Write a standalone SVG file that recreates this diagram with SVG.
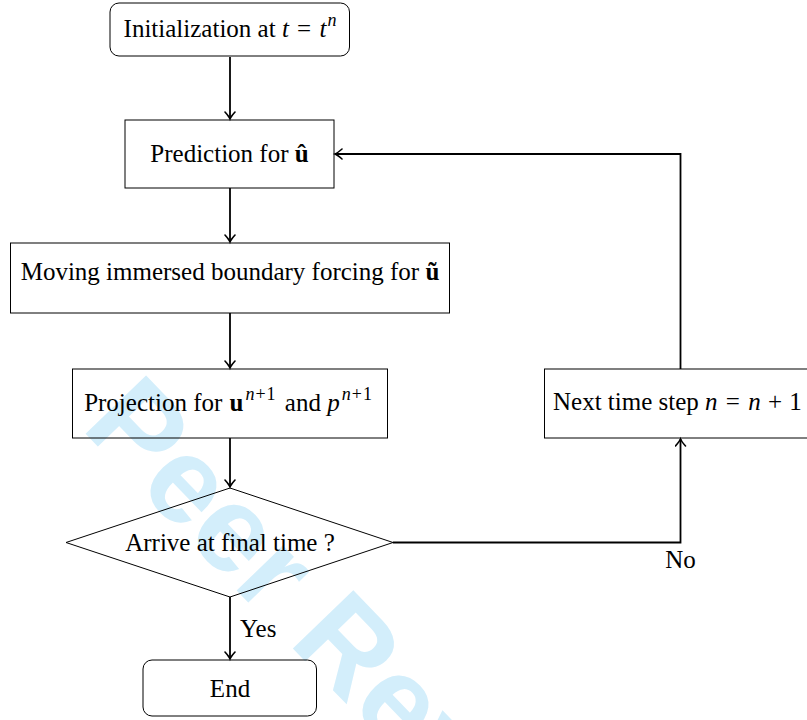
<svg xmlns="http://www.w3.org/2000/svg" width="807" height="720" viewBox="0 0 807 720">
<style>
text{font-family:"Liberation Serif","Times New Roman",serif;font-size:25px;fill:#000}
.box{fill:none;stroke:#000;stroke-width:1}
.conn{fill:none;stroke:#000;stroke-width:1.8}
.m{font-style:italic}
.b{font-weight:bold}
.sup{font-size:18px}
.wm{font-family:"Liberation Sans",Arial,sans-serif;font-weight:bold;font-size:122px;fill:#d3eefb}
</style>
<defs>
<marker id="arr" markerUnits="userSpaceOnUse" markerWidth="12" markerHeight="12" viewBox="-8 -6 10 12" refX="0" refY="0" orient="auto">
<path d="M-7,-5 Q-2.5,-1 0,0 Q-2.5,1 -7,5" fill="none" stroke="#000" stroke-width="1.6" stroke-linecap="round"/>
</marker>
</defs>
<rect width="807" height="720" fill="#fff"/>
<text class="wm" transform="translate(80,428) rotate(46)">Peer Review</text>
<g id="connectors">
<line class="conn" x1="230" y1="57" x2="230" y2="119" marker-end="url(#arr)"/>
<line class="conn" x1="230" y1="188" x2="230" y2="242" marker-end="url(#arr)"/>
<line class="conn" x1="230" y1="313" x2="230" y2="368" marker-end="url(#arr)"/>
<line class="conn" x1="230" y1="438" x2="230" y2="487" marker-end="url(#arr)"/>
<line class="conn" x1="230" y1="597" x2="230" y2="659" marker-end="url(#arr)"/>
<path class="conn" d="M393,542.5 H680.5 V439" marker-end="url(#arr)"/>
<path class="conn" d="M680.5,369 V154 H335" marker-end="url(#arr)"/>
<text x="240" y="637">Yes</text>
<text x="680.5" y="568" text-anchor="middle">No</text>
</g>
<g id="init">
<rect class="box" x="110" y="3" width="239.5" height="53" rx="9"/>
<text x="230" y="37" text-anchor="middle">Initialization at <tspan class="m">t</tspan> <tspan dx="2">=</tspan> <tspan class="m" dx="2">t</tspan><tspan class="m sup" dx="1" dy="-11">n</tspan></text>
</g>
<g id="prediction">
<rect class="box" x="125" y="120" width="209" height="68"/>
<text x="229.5" y="162" text-anchor="middle">Prediction for <tspan class="b">û</tspan></text>
</g>
<g id="forcing">
<rect class="box" x="10.5" y="243" width="439" height="70"/>
<text x="230" y="280" text-anchor="middle">Moving immersed boundary forcing for <tspan class="b">ũ</tspan></text>
</g>
<g id="projection">
<rect class="box" x="72.5" y="369" width="315" height="69"/>
<text x="228" y="411" text-anchor="middle">Projection for <tspan class="b" dx="1">u</tspan><tspan class="sup" dx="2" dy="-11"><tspan class="m">n</tspan><tspan dx="1">+</tspan><tspan dx="1">1</tspan></tspan><tspan dy="11" dx="3"> and </tspan><tspan class="m">p</tspan><tspan class="sup" dx="2" dy="-11"><tspan class="m">n</tspan><tspan dx="1">+</tspan><tspan dx="1">1</tspan></tspan></text>
</g>
<g id="decision">
<polygon class="box" points="230,488 393,542.5 230,597 66,542.5"/>
<text x="230" y="551" text-anchor="middle">Arrive at final time ?</text>
</g>
<g id="end">
<rect class="box" x="143" y="660" width="173.5" height="56" rx="9"/>
<text x="230" y="697" text-anchor="middle">End</text>
</g>
<g id="next">
<rect class="box" x="544.5" y="369" width="272" height="69"/>
<text x="553" y="410">Next time step <tspan class="m">n</tspan> <tspan dx="2">=</tspan> <tspan class="m" dx="2">n</tspan> <tspan dx="1">+</tspan> <tspan dx="1">1</tspan></text>
</g>
</svg>
